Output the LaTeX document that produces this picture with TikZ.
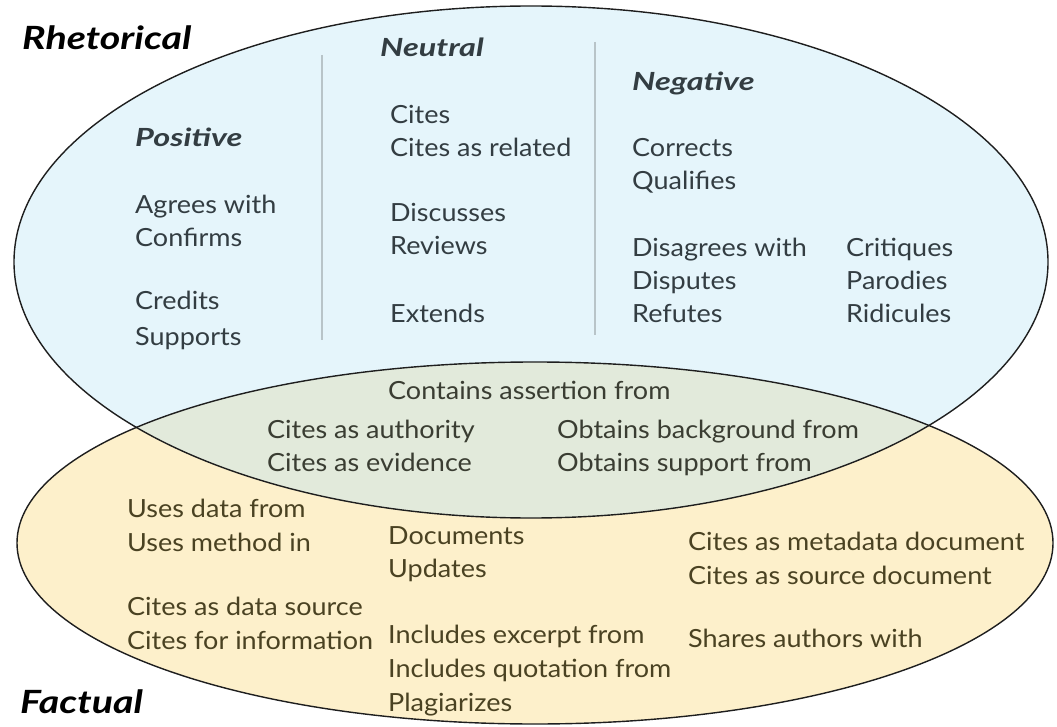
\documentclass[tikz,border=0pt]{standalone}
\usepackage{fontspec}
\setmainfont{Lato}
\newfontfamily\itemfont[FakeStretch=1.08]{Lato}
\newfontfamily\headfont[FakeStretch=1.3]{Lato}
\newfontfamily\titlefont[FakeStretch=1.23]{Lato}
\definecolor{bluefill}{HTML}{E5F5FB}
\definecolor{orangefill}{HTML}{FDF0CB}
\definecolor{overlapfill}{HTML}{E2EADB}
\definecolor{bluetext}{HTML}{333D42}
\definecolor{orangetext}{HTML}{4A4222}
\definecolor{midtext}{HTML}{3A3D32}
\definecolor{divider}{HTML}{B8C4C8}
\definecolor{outline}{HTML}{1E1E1E}
\tikzset{
  item/.style={anchor=base west, inner sep=0pt, font=\itemfont\fontsize{25}{29}\selectfont},
  bitem/.style={item, text=bluetext},
  oitem/.style={item, text=orangetext},
  mitem/.style={item, text=midtext},
  head/.style={anchor=base west, inner sep=0pt, text=bluetext, font=\headfont\fontsize{25}{29}\selectfont\bfseries\itshape},
  title/.style={anchor=base west, inner sep=0pt, text=black, font=\titlefont\fontsize{32}{36}\selectfont\bfseries\itshape},
  divline/.style={draw=divider, line width=2pt},
  ring/.style={draw=outline, line width=1.4pt}
}
\begin{document}
\begin{tikzpicture}[x=1pt,y=-1pt]
\useasboundingbox (0,0) rectangle (1057,727);
% ellipses
\fill[bluefill] (531,262) ellipse [x radius=517, y radius=256];
\fill[orangefill] (535,543) ellipse [x radius=518, y radius=181];
\begin{scope}
  \clip (531,262) ellipse [x radius=517, y radius=256];
  \fill[overlapfill] (535,543) ellipse [x radius=518, y radius=181];
\end{scope}
\path[ring] (531,262) ellipse [x radius=517, y radius=256];
\path[ring] (535,543) ellipse [x radius=518, y radius=181];
% dividers
\coordinate (d1t) at (322,55);
\coordinate (d1b) at (322,340);
\coordinate (d2t) at (595,42);
\coordinate (d2b) at (595,335);
\draw[divline] (d1t) -- (d1b);
\draw[divline] (d2t) -- (d2b);
% titles
\node[title] (rhet) at (22,50) {Rhetorical};
\node[title] (fact) at (20,713) {Factual};
% Positive
\node[head] (pos) at (135,147) {Positive};
\node[bitem] (p1) at (135,214) {Agrees with};
\node[bitem] (p2) at (135,247) {Confirms};
\node[bitem] (p3) at (135,309) {Credits};
\node[bitem] (p4) at (135,345) {Supports};
% Neutral
\node[head] (neu) at (380,57) {Neutral};
\node[bitem] (n1) at (390,124) {Cites};
\node[bitem] (n2) at (390,157) {Cites as related};
\node[bitem] (n3) at (390,222) {Discusses};
\node[bitem] (n4) at (390,255) {Reviews};
\node[bitem] (n5) at (390,322) {Extends};
% Negative
\node[head] (neg) at (632,91) {Negative};
\node[bitem] (g1) at (632,157) {Corrects};
\node[bitem] (g2) at (632,190) {Qualifies};
\node[bitem] (g3) at (632,257) {Disagrees with};
\node[bitem] (g4) at (632,290) {Disputes};
\node[bitem] (g5) at (632,322) {Refutes};
\node[bitem] (g6) at (846,257) {Critiques};
\node[bitem] (g7) at (846,290) {Parodies};
\node[bitem] (g8) at (846,322) {Ridicules};
% overlap
\node[mitem] (o1) at (388,399) {Contains assertion from};
\node[mitem] (o2) at (267,438) {Cites as authority};
\node[mitem] (o3) at (267,471) {Cites as evidence};
\node[mitem] (o4) at (557,438) {Obtains background from};
\node[mitem] (o5) at (557,471) {Obtains support from};
% factual
\node[oitem] (f1) at (127,517) {Uses data from};
\node[oitem] (f2) at (127,551) {Uses method in};
\node[oitem] (f3) at (127,615) {Cites as data source};
\node[oitem] (f4) at (127,649) {Cites for information};
\node[oitem] (f5) at (388,544) {Documents};
\node[oitem] (f6) at (388,577) {Updates};
\node[oitem] (f7) at (388,643) {Includes excerpt from};
\node[oitem] (f8) at (388,677) {Includes quotation from};
\node[oitem] (f9) at (388,711) {Plagiarizes};
\node[oitem] (f10) at (688,550) {Cites as metadata document};
\node[oitem] (f11) at (688,584) {Cites as source document};
\node[oitem] (f12) at (688,647) {Shares authors with};
\end{tikzpicture}
\end{document}
